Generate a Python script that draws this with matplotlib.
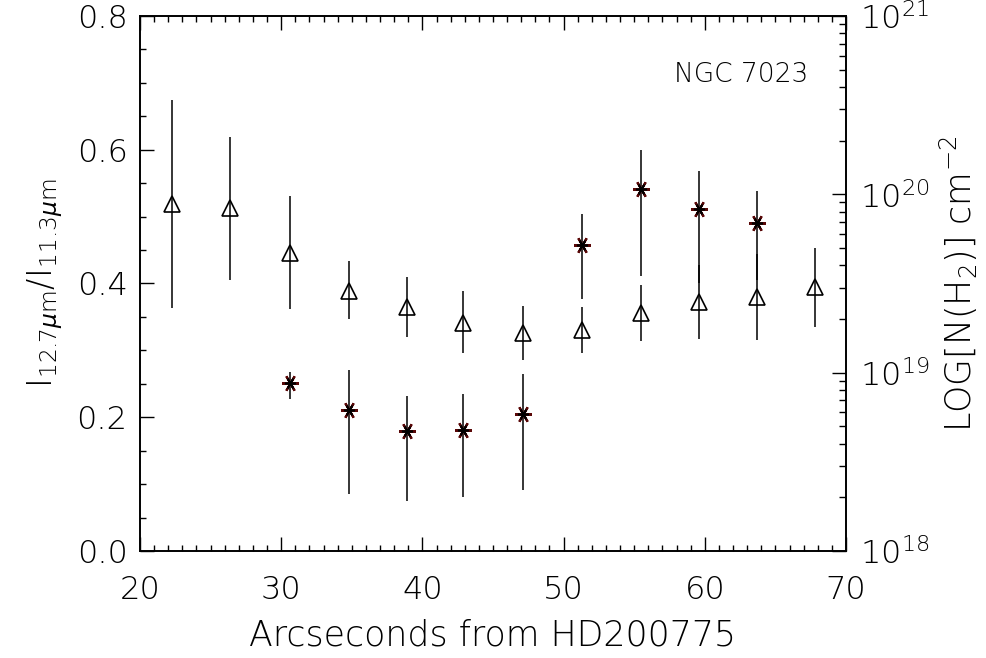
import numpy as np
import matplotlib
matplotlib.use("Agg")
import matplotlib.pyplot as plt
from matplotlib.ticker import MultipleLocator, FormatStrFormatter, LogLocator

plt.rcParams['font.family'] = ['DejaVu Sans']
plt.rcParams['font.weight'] = 200
plt.rcParams['axes.labelweight'] = 200
plt.rcParams['mathtext.fontset'] = 'custom'
plt.rcParams['mathtext.rm'] = 'DejaVu Sans:weight=200'
plt.rcParams['mathtext.it'] = 'DejaVu Sans:italic:weight=200'
plt.rcParams['mathtext.default'] = 'rm'

# PAH band ratio I(12.7)/I(11.3), triangles, left axis
x_ratio = [22.3, 26.4, 30.6, 34.8, 38.9, 42.9, 47.1, 51.3, 55.5, 59.6, 63.7, 67.8]
ratio = [0.519, 0.513, 0.446, 0.389, 0.365, 0.341, 0.326, 0.330, 0.356, 0.372, 0.380, 0.395]
ratio_hi = [0.674, 0.619, 0.531, 0.434, 0.410, 0.389, 0.366, 0.365, 0.398, 0.428, 0.444, 0.453]
ratio_lo = [0.363, 0.405, 0.362, 0.347, 0.320, 0.296, 0.286, 0.296, 0.314, 0.317, 0.316, 0.335]

# H2 column density, asterisks, right axis (cm^-2)
x_h2 = [30.6, 34.8, 38.9, 42.9, 47.1, 51.3, 55.5, 59.6, 63.7]
nh2 = [8.7e18, 6.2e18, 4.7e18, 4.8e18, 5.9e18, 5.2e19, 1.07e20, 8.3e19, 6.9e19]
nh2_hi = [1.01e19, 1.04e19, 7.4e18, 7.6e18, 9.8e18, 7.8e19, 1.78e20, 1.35e20, 1.05e20]
nh2_lo = [7.1e18, 2.1e18, 1.9e18, 2.0e18, 2.2e18, 2.6e19, 3.5e19, 3.2e19, 3.3e19]


fig = plt.figure(figsize=(9.86, 6.58), dpi=100)
ax = fig.add_axes([0.142, 0.1626, 0.716, 0.8131])
ax2 = ax.twinx()

ratio = np.array(ratio)
ax.errorbar(x_ratio, ratio,
            yerr=[ratio - np.array(ratio_lo), np.array(ratio_hi) - ratio],
            fmt='none', ecolor='black', elinewidth=1.1, capsize=0)
ax.plot(x_ratio, ratio, ls='none', marker='^', ms=11, mfc='none',
        mec='black', mew=1.2)

nh2 = np.array(nh2)
ax2.errorbar(x_h2, nh2,
             yerr=[nh2 - np.array(nh2_lo), np.array(nh2_hi) - nh2],
             fmt='none', ecolor='black', elinewidth=1.1, capsize=0)
ax2.plot(x_h2, nh2, ls='none', marker=(6, 2, 90), ms=12,
         mec='#5a0808', mew=1.6)
ax2.plot(x_h2, nh2, ls='none', marker=(6, 2, 90), ms=8,
         mec='black', mew=1.2)

ax.set_xlim(20, 70)
ax.set_ylim(0.0, 0.8)
ax2.set_yscale('log')
ax2.set_ylim(1e18, 1e21)

ax.xaxis.set_major_locator(MultipleLocator(10))
ax.xaxis.set_minor_locator(MultipleLocator(1))
ax.yaxis.set_major_locator(MultipleLocator(0.2))
ax.yaxis.set_minor_locator(MultipleLocator(0.05))
ax.yaxis.set_major_formatter(FormatStrFormatter('%.1f'))
ax2.yaxis.set_major_locator(LogLocator(base=10))
ax2.yaxis.set_minor_locator(LogLocator(base=10, subs=np.arange(2, 10)))

ax.tick_params(which='both', direction='in', top=True, right=False,
               labelsize=23, width=1.0)
ax.tick_params(which='major', length=10)
ax.tick_params(which='minor', length=4)
ax.tick_params(axis='x', pad=17)
ax.tick_params(axis='y', pad=9)
ax2.tick_params(which='both', direction='in', labelsize=23, width=1.0, pad=10)
ax2.tick_params(which='major', length=10)
ax2.tick_params(which='minor', length=5)

for a in (ax, ax2):
    for s in a.spines.values():
        s.set_linewidth(1.2)

ax.set_xlabel('Arcseconds from HD200775', fontsize=25, fontweight=200,
              labelpad=10)
ax.set_ylabel(r'I$_{12.7\mathit{\mu} m}$/I$_{11.3\mathit{\mu} m}$', fontsize=24,
              fontweight=200, labelpad=8)
ax2.set_ylabel(r'LOG$\left[\mathrm{N\left(H_2\right)}\right]$ cm$^{-2}$',
               fontsize=25, fontweight=200, labelpad=6)

ax.text(0.946, 0.89, 'NGC 7023', transform=ax.transAxes, ha='right',
        va='center', fontsize=19, fontweight=200)

fig.savefig('out.png', dpi=100)
